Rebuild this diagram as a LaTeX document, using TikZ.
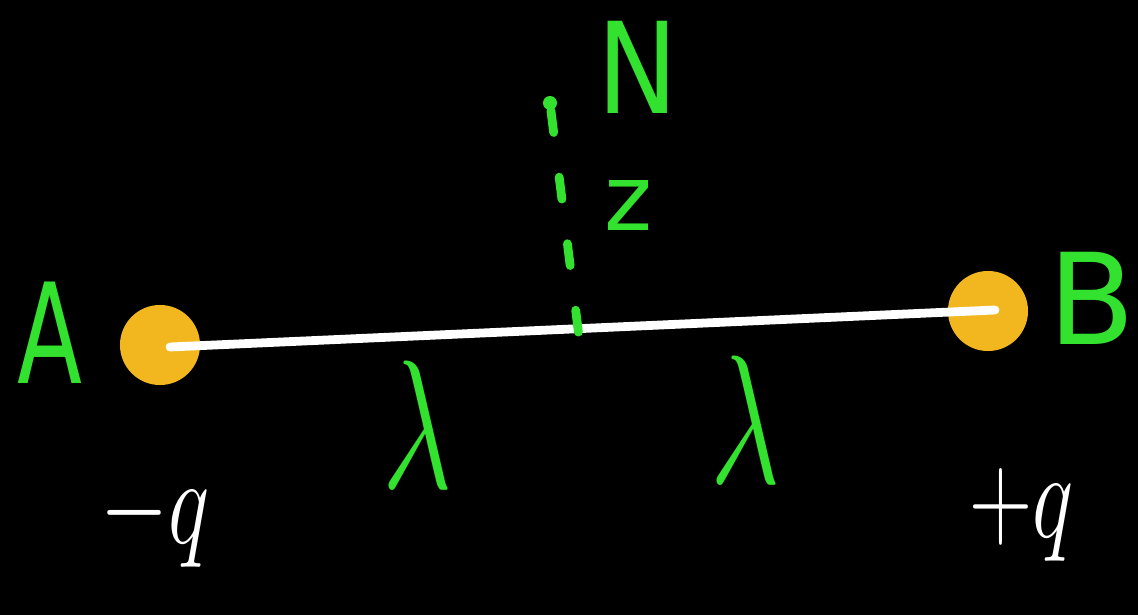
\documentclass[tikz,border=0pt]{standalone}
\usepackage{fontspec}
\setmainfont{DejaVu Sans}
\definecolor{hgreen}{HTML}{33E22E}
\definecolor{horange}{HTML}{F2B71F}
\begin{document}
\begin{tikzpicture}[x=0.01cm,y=-0.01cm,
  charge/.style={circle,fill=horange,minimum size=0.8cm,inner sep=0pt},
  glab/.style={text=hgreen,inner sep=0pt,font=\fontsize{36}{40}\selectfont},
  wlab/.style={text=white,inner sep=0pt,font=\fontsize{44}{48}\selectfont},
  ]
\fill[black] (0,0) rectangle (1138,615);
\useasboundingbox (0,0) rectangle (1138,615);
\node[charge] (A) at (160,345) {};
\node[charge] (B) at (988,311) {};
\coordinate (Ain) at (170,347);
\coordinate (Bin) at (995,310);
\draw[white,line width=2.5pt,line cap=round] (Ain) -- (Bin);
\node[circle,fill=hgreen,minimum size=0.14cm,inner sep=0pt] (N0) at (550,103) {};
\coordinate (M) at (579,337);
\draw[hgreen,line width=2.5pt,dash pattern=on 0.22cm off 0.45cm,line cap=round] (N0) -- (M);
\node[glab,xscale=0.75,yscale=1.1] (la) at (50,333) {A};
\node[glab] (lb) at (1092,298) {B};
\node[glab,xscale=0.85] (ln) at (638,67) {N};
\node[glab,font=\fontsize{26}{30}\selectfont] (lz) at (628,205) {z};
\node[glab,xscale=1.4,yscale=2.1] (l1) at (417,425) {$\lambda$};
\node[glab,xscale=1.4,yscale=2.1] (l2) at (745,420) {$\lambda$};
\node[wlab,yscale=1.4] (qa) at (155,520) {$-q$};
\node[wlab,yscale=1.4] (qb) at (1022,515) {$+q$};
\end{tikzpicture}
\end{document}
